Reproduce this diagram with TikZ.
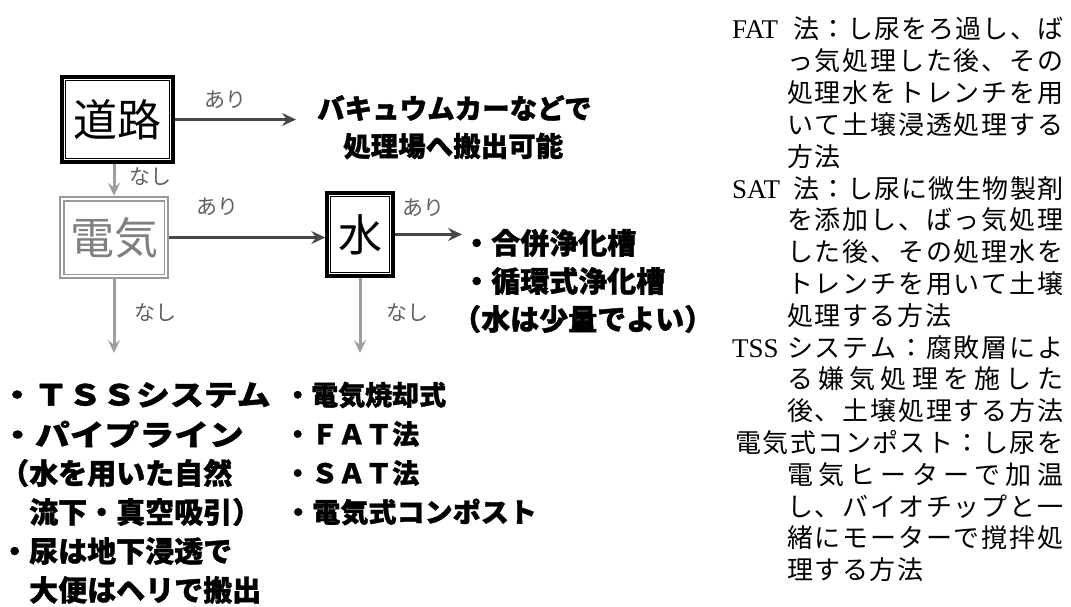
\documentclass[tikz,border=0pt]{standalone}
\usepackage{fontspec}
\usetikzlibrary{arrows.meta,calc}
\newfontfamily\jp{Noto Sans CJK JP}[BoldFeatures={FakeBold=1.2}]
\newfontfamily\lat{Liberation Serif}
\def\SPfirst#1{#1\SPloop}
\def\SPloop#1{\ifx#1\relax\else\hfil#1\expandafter\SPloop\fi}
\newcommand\spreadline[2]{\hbox to #1{\SPfirst#2\relax}}
\tikzset{
  big/.style={font=\jp\bfseries\fontsize{29}{32}\selectfont, inner sep=0pt, anchor=west},
  mid/.style={font=\jp\bfseries\fontsize{27}{30}\selectfont, inner sep=0pt, anchor=west},
  desc/.style={font=\jp\fontsize{26}{30}\selectfont, inner sep=0pt, anchor=base west},
  lbl/.style={font=\jp\fontsize{21}{22}\selectfont, text=black!62, inner sep=0pt},
  arr/.style={line width=3.5pt, draw=black!72, -{Stealth[length=14pt,width=13pt,inset=5pt]}},
  arrg/.style={line width=3pt, draw=black!38, -{Stealth[length=13pt,width=12pt,inset=5pt]}},
  boxk/.style={draw=black, line width=3.5pt, inner sep=0pt, font=\jp\fontsize{44}{44}\selectfont},
  boxg/.style={draw=black!40, line width=2.5pt, inner sep=0pt, text=black!50, font=\jp\fontsize{44}{44}\selectfont},
}
\begin{document}
\begin{tikzpicture}[x=1pt,y=-1pt]
\useasboundingbox (0,0) rectangle (1071,607);
\fill[white] (0,0) rectangle (1071,607);

% boxes
\node[boxk, minimum width=111pt, minimum height=85pt] (road) at (117.5,119.5) {道路};
\draw[line width=1.3pt] ([shift={(5pt,-5pt)}]road.north west) rectangle ([shift={(-5pt,5pt)}]road.south east);
\node[boxg, minimum width=108pt, minimum height=81pt] (elec) at (114,237.5) {電気};
\draw[draw=black!40, line width=1.5pt] ([shift={(5pt,-5pt)}]elec.north west) rectangle ([shift={(-5pt,5pt)}]elec.south east);
\node[boxk, minimum width=66pt, minimum height=83pt] (water) at (360,234.5) {水};
\draw[line width=1.3pt] ([shift={(5pt,-5pt)}]water.north west) rectangle ([shift={(-5pt,5pt)}]water.south east);

% texts
\node[big, font=\jp\bfseries\fontsize{27.5}{30}\selectfont] (vac1) at (317,108) {バキュウムカーなどで};
\node[big, font=\jp\bfseries\fontsize{27.5}{30}\selectfont] (vac2) at (343,146) {処理場へ搬出可能};
\coordinate (vacin) at (296,122);

\node[big] (g1) at (462,243) {・合併浄化槽};
\node[big] (g2) at (462,281) {・循環式浄化槽};
\node[big] (g3) at (452,319) {（水は少量でよい）};
\coordinate (gin) at (462,233);

\node[big] (l1) at (0,395) {\addfontfeature{FakeStretch=1.17}・ＴＳＳシステム};
\node[big] (l2) at (0,434) {\addfontfeature{FakeStretch=1.2}・パイプライン};
\node[big] (l3) at (0,473) {（水を用いた自然};
\node[big] (l4) at (29,512) {流下・真空吸引）};
\node[big] (l5) at (0,551) {・尿は地下浸透で};
\node[big] (l6) at (29,590) {大便はヘリで搬出};

\node[mid] (m1) at (284,395) {・電気焼却式};
\node[mid] (m2) at (284,434) {・ＦＡＴ法};
\node[mid] (m3) at (284,473) {・ＳＡＴ法};
\node[mid] (m4) at (284,512) {\addfontfeature{FakeStretch=1.04}・電気式コンポスト};

\coordinate (eend) at (114,353);
\coordinate (wend) at (360,353);

% connectors
\draw[arr] (road.east) -- (road.east -| vacin);
\draw[arrg] (road.south -| elec.north) -- (elec.north);
\draw[arr] (elec.east) -- (elec.east -| water.west);
\draw[arr] (water.east) -- (water.east -| gin);
\draw[arrg] (elec.south) -- (eend);
\draw[arrg] (water.south) -- (wend);

\node[lbl] (a1) at (225,100) {あり};
\node[lbl] (n1) at (150,177) {なし};
\node[lbl] (a2) at (217,207) {あり};
\node[lbl] (a3) at (423,208) {あり};
\node[lbl] (n2) at (155,313) {なし};
\node[lbl] (n3) at (407,313) {なし};

% right description
\node[desc, font=\lat\fontsize{27}{30}\selectfont] (r1a) at (732,39) {FAT};
\node[desc] (r1b) at (793,39) {\spreadline{270pt}{法：し尿をろ過し、ば}};
\node[desc] (r2) at (787,70.8) {\spreadline{276pt}{っ気処理した後、その}};
\node[desc] (r3) at (787,102.6) {\spreadline{276pt}{処理水をトレンチを用}};
\node[desc] (r4) at (787,134.4) {\spreadline{276pt}{いて土壌浸透処理する}};
\node[desc] (r5) at (787,166.2) {\spreadline{53.6pt}{方法}};
\node[desc, font=\lat\fontsize{27}{30}\selectfont] (r6a) at (732,198) {SAT};
\node[desc] (r6b) at (793,198) {\spreadline{270pt}{法：し尿に微生物製剤}};
\node[desc] (r7) at (787,229.8) {\spreadline{276pt}{を添加し、ばっ気処理}};
\node[desc] (r8) at (787,261.6) {\spreadline{276pt}{した後、その処理水を}};
\node[desc] (r9) at (787,293.4) {\spreadline{276pt}{トレンチを用いて土壌}};
\node[desc] (r10) at (787,325.2) {\spreadline{164pt}{処理する方法}};
\node[desc, font=\lat\fontsize{27}{30}\selectfont] (r11a) at (732,357) {TSS};
\node[desc] (r11b) at (787,357) {\spreadline{276pt}{システム：腐敗層によ}};
\node[desc] (r12) at (787,388.8) {\spreadline{276pt}{る嫌気処理を施した}};
\node[desc] (r13) at (787,420.6) {\spreadline{276pt}{後、土壌処理する方法}};
\node[desc] (r14) at (735,452.4) {\spreadline{328pt}{電気式コンポスト：し尿を}};
\node[desc] (r15) at (787,484.2) {\spreadline{276pt}{電気ヒーターで加温}};
\node[desc] (r16) at (787,516) {\spreadline{276pt}{し、バイオチップと一}};
\node[desc] (r17) at (787,547.8) {\spreadline{276pt}{緒にモーターで撹拌処}};
\node[desc] (r18) at (787,579.6) {\spreadline{136pt}{理する方法}};
\end{tikzpicture}
\end{document}
